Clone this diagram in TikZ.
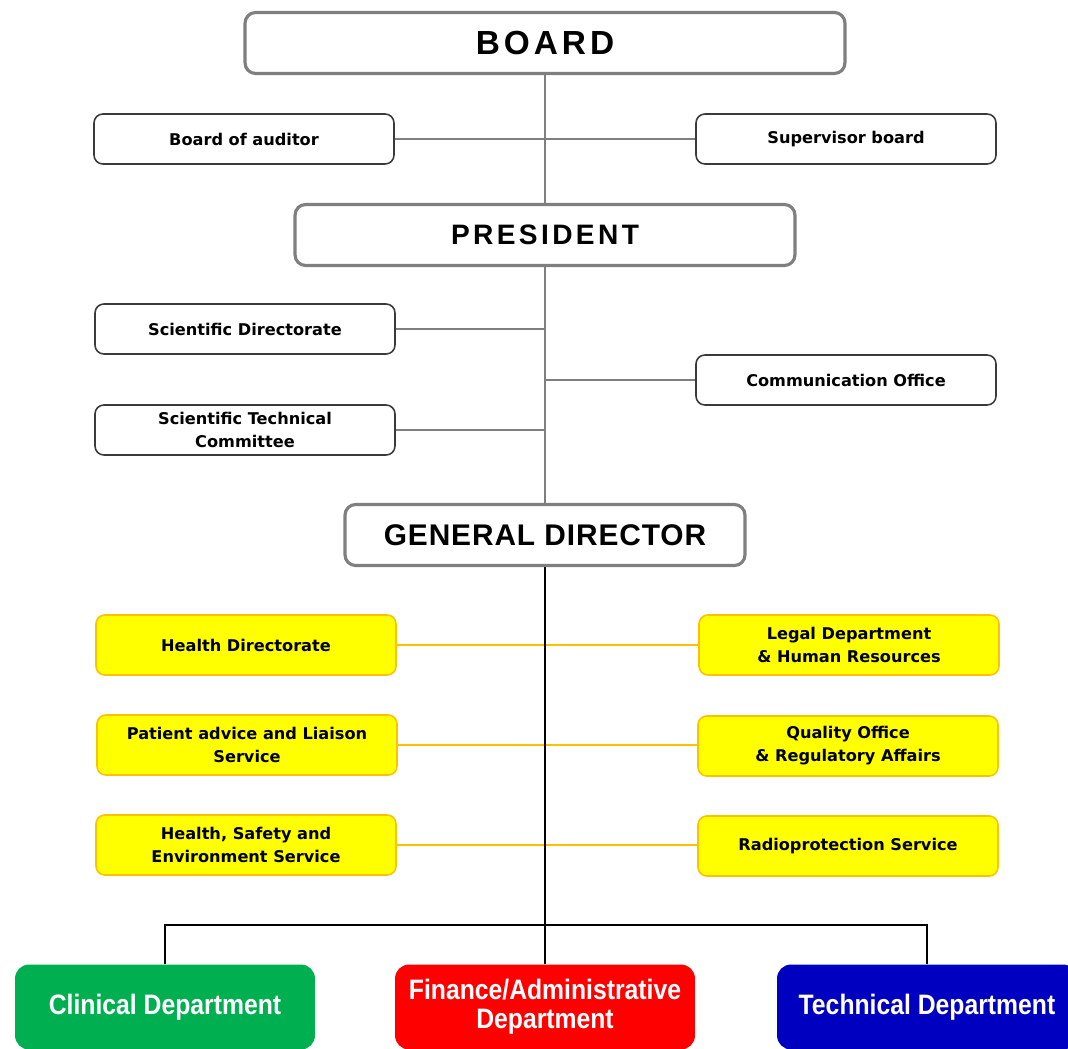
\documentclass[tikz,border=0pt]{standalone}
\usepackage{fontspec}
\setmainfont{DejaVu Sans}
\newfontfamily\headfont[LetterSpace=12]{Liberation Sans}
\newfontfamily\gdfont[LetterSpace=3]{Liberation Sans}
\newfontfamily\narrowfont[FakeStretch=0.88]{Liberation Sans}
\usepackage{tikz}
\definecolor{linegray}{HTML}{7F7F7F}
\definecolor{boxedge}{HTML}{3A3A3A}
\definecolor{staffyellow}{HTML}{FFFF00}
\definecolor{staffedge}{HTML}{FFC000}
\definecolor{clingreen}{HTML}{00B050}
\definecolor{finred}{HTML}{FF0000}
\definecolor{techblue}{HTML}{0000C0}
\tikzset{
  head/.style={draw=linegray, line width=1.8pt, rounded corners=6pt, fill=white, minimum height=1.22cm},
  unit/.style={draw=boxedge, line width=0.9pt, rounded corners=5pt, fill=white, minimum width=6cm, minimum height=1cm, align=center, font=\bfseries\fontsize{9.2}{13}\selectfont},
  staff/.style={unit, draw=staffedge, fill=staffyellow, minimum height=1.2cm},
  dept/.style={rounded corners=8pt, minimum width=6cm, minimum height=1.7cm, text=white, align=center, font=\narrowfont\bfseries\fontsize{16}{16.5}\selectfont},
  trunk/.style={draw=linegray, line width=1pt},
  link/.style={draw=black, line width=0.9pt},
  glink/.style={draw=staffedge, line width=0.9pt}
}

\begin{document}
\begin{tikzpicture}[x=0.02cm, y=-0.02cm]
\clip (0,0) rectangle (1068,1048);
\node[head, minimum width=12cm, font=\headfont\bfseries\fontsize{19}{22}\selectfont] (board) at (545,43) {BOARD};
\node[unit] (auditor) at (244,139) {Board of auditor};
\node[unit] (superv) at (846,139) {Supervisor board};
\node[head, minimum width=10cm, font=\headfont\bfseries\fontsize{16}{19}\selectfont] (pres) at (545,235) {PRESIDENT};
\node[unit] (scidir) at (245,329) {Scientific Directorate};
\node[unit] (comm) at (846,380) {Communication Office};
\node[unit] (stc) at (245,430) {Scientific Technical\\Committee};
\node[head, minimum width=8cm, font=\gdfont\bfseries\fontsize{17}{20}\selectfont] (gd) at (545,535) {GENERAL DIRECTOR};
\node[staff] (health) at (246,645) {Health Directorate};
\node[staff] (legal) at (849,645) {Legal Department\\\& Human Resources};
\node[staff] (pals) at (247,745) {Patient advice and Liaison\\Service};
\node[staff] (quality) at (848,746) {Quality Office\\\& Regulatory Affairs};
\node[staff] (hse) at (246,845) {Health, Safety and\\Environment Service};
\node[staff] (radio) at (848,846) {Radioprotection Service};
\node[dept, fill=clingreen] (clin) at (165,1007) {Clinical Department};
\node[dept, fill=finred] (fin) at (545,1007) {Finance/Administrative\\Department};
\node[dept, fill=techblue] (tech) at (927,1007) {Technical Department};
\coordinate (bus) at (545,925);

\draw[glink] (health) -- (legal);
\draw[glink] (pals.east) -- (pals.east -| quality.west);
\draw[glink] (hse.east) -- (hse.east -| radio.west);
\draw[trunk] (board) -- (pres);
\draw[trunk] (auditor) -- (superv);
\draw[trunk] (pres) -- (gd);
\draw[trunk] (scidir.east) -- (scidir.east -| pres.south);
\draw[trunk] (comm.west) -- (comm.west -| pres.south);
\draw[trunk] (stc.east) -- (stc.east -| pres.south);
\draw[link] (gd.south) -- (fin.north);
\draw[link] (clin.north) |- (bus) -| (tech.north);
\end{tikzpicture}
\end{document}
